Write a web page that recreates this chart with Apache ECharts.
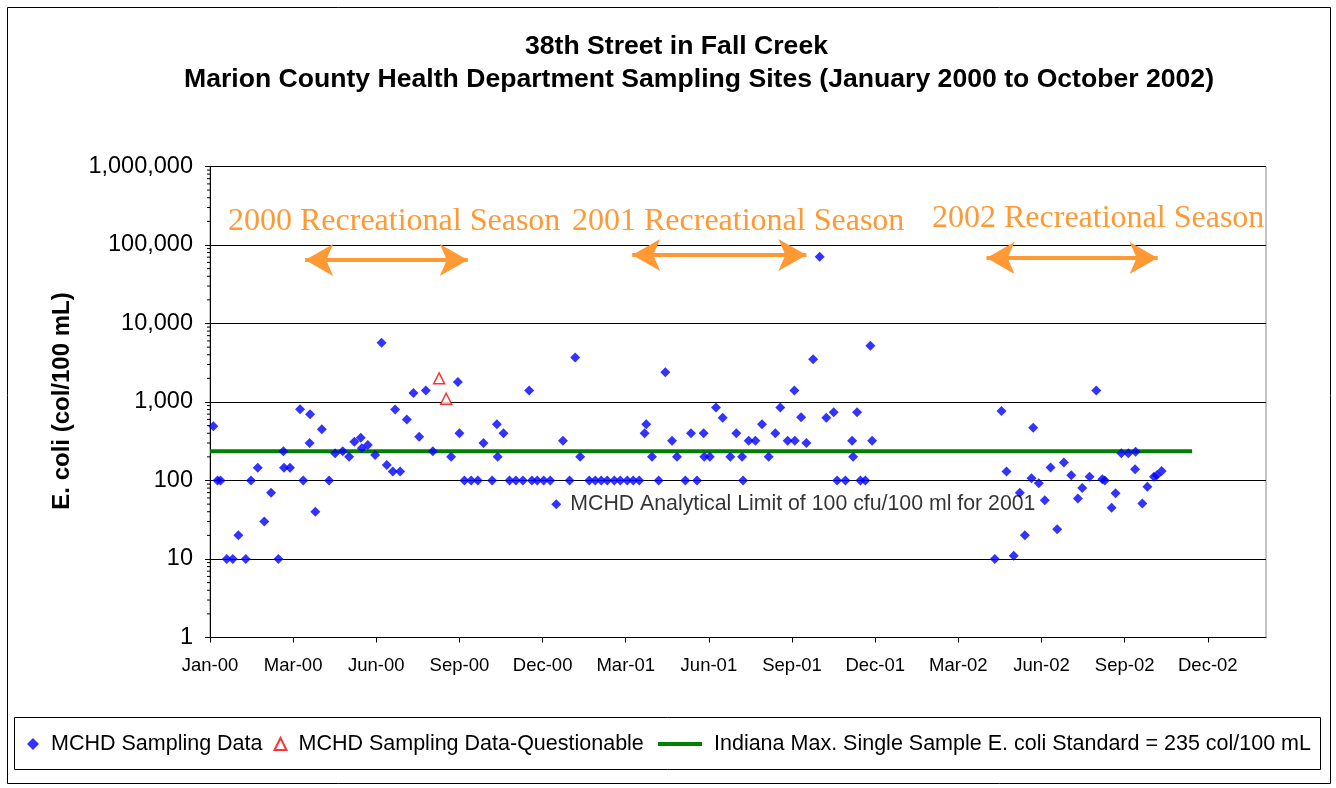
<!DOCTYPE html>
<html><head><meta charset="utf-8">
<script src="https://cdn.jsdelivr.net/npm/echarts@6/dist/echarts.min.js"></script>
<style>html,body{margin:0;padding:0;background:#fff}#c{width:1336px;height:788px}</style>
</head><body><div id="c"></div>
<script>
// Days since 2000-01-01 and E. coli values (col/100 mL)
const sampleDay = [3.6, 8.1, 11.4, 18.1, 24.6, 30.7, 38.7, 44.4, 51.7, 58.8,
  66.1, 74, 79.4, 80.1, 86.6, 97.5, 101, 108.3, 107.8, 114,
  121, 128.9, 135.4, 143.7, 150.6, 156.3, 163.2, 164.3, 170.8, 178.7,
  185.7, 191.4, 197.9, 200.4, 205.8, 213, 220.2, 226.4, 233.6, 241.2,
  261, 268.3, 270, 275.4, 282.7, 289.9, 296, 305.4, 310.5, 311.4,
  317.7, 324.2, 331.1, 338.7, 345.5, 348.4, 354.2, 361.2, 368.3, 374.8,
  382, 389.2, 395.3, 400.7, 410.5, 417, 423.5, 430, 437.6, 444.1,
  451.6, 458.1, 464.6, 470.4, 472.2, 478.4, 485.6, 492.8, 500.1, 505.5,
  514.5, 520.6, 527.1, 534.3, 535, 541, 547.7, 554.9, 563.2, 569.7,
  575.9, 577, 583.1, 590.3, 597.5, 604.7, 611.9, 617.3, 625.2, 632.5,
  633, 639.8, 645.5, 652.8, 659.9, 667.1, 675.1, 678.8, 687.8, 695,
  696.1, 700.4, 704, 709.4, 714.8, 716.7,
  849.5, 856.7, 862.1, 870, 876.5, 882, 889.2, 891, 897.1, 903.6,
  909.8, 917, 924.2, 932.2, 939.4, 944.1, 952, 959.3, 965.8, 968.6,
  975.9, 980.2, 986.4, 994, 1001.9, 1001.3, 1009.1, 1014.6, 1021.7, 1024.8, 1030];
const ecoli = [490, 100, 100, 10, 10, 20, 10, 100, 145, 30,
  70, 10, 235, 145, 145, 810, 100, 700, 300, 40,
  450, 100, 222, 236, 200, 312, 350, 257, 283, 211,
  5700, 157, 130, 800, 130, 600, 1300, 360, 1400, 235,
  200, 1800, 400, 100, 100, 100, 300, 100, 520, 200,
  400, 100, 100, 100, 1400, 100, 100, 100, 100, 50,
  320, 100, 3700, 200, 100, 100, 100, 100, 100, 100,
  100, 100, 100, 400, 520, 200, 100, 2400, 320, 200,
  100, 400, 100, 400, 200, 200, 850, 630, 200, 400,
  200, 100, 320, 320, 520, 200, 400, 850, 320, 1400,
  320, 640, 300, 3500, 71000, 630, 740, 100, 100, 320,
  200, 740, 100, 100, 5200, 320,
  10, 770, 130, 11, 70, 20, 107, 470, 92, 56,
  146, 24, 169, 117, 59, 80, 112, 1400, 104, 100,
  45, 69, 222, 222, 233, 139, 51, 83, 112, 117, 132];
const questionableDay = [248, 255.6];
const questionableEcoli = [2000, 1100];
const standardValue = 235;
const standardDays = [0, 1063];
const noteIndex = 59;
const noteText = 'MCHD Analytical Limit of 100 cfu/100 ml for 2001';
const seasonNames = ['2000 Recreational Season', '2001 Recreational Season', '2002 Recreational Season'];
const seasonStart = [103, 457, 840.5];
const seasonEnd = [279, 645.5, 1025.7];
const seasonArrowY = [64400, 74600, 68200];
const xTickDays = [0, 90, 180, 270, 360, 450, 540, 630, 720, 810, 900, 990, 1080];
const minorTickValues = [];
for (let k = 0; k < 6; k++) for (let m = 2; m <= 9; m++) minorTickValues.push(m * Math.pow(10, k));
const seriesNames = ['MCHD Sampling Data', 'MCHD Sampling Data-Questionable', 'Indiana Max. Single Sample E. coli Standard = 235 col/100 mL'];
const titleLines = ['38th Street in Fall Creek', 'Marion County Health Department Sampling Sites (January 2000 to October 2002)'];
const yName = 'E. coli (col/100 mL)';

const MONTHS = ['Jan','Feb','Mar','Apr','May','Jun','Jul','Aug','Sep','Oct','Nov','Dec'];
function dayLabel(v) {
  const d = new Date(2000, 0, 1 + Math.round(v));
  return MONTHS[d.getMonth()] + '-' + String(d.getFullYear() % 100).padStart(2, '0');
}
const FONT = '"Liberation Sans", Arial, sans-serif';
const ORANGE = '#FF9933';

const mainData = sampleDay.map((d, i) => {
  const item = { value: [d, ecoli[i]] };
  if (i === noteIndex) {
    item.label = { show: true, position: 'right', distance: 9, formatter: noteText,
      color: '#000', fontSize: 21.3, fontFamily: FONT };
  }
  return item;
});

const chart = echarts.init(document.getElementById('c'), null, { renderer: 'canvas' });
chart.setOption({
  animation: false,
  backgroundColor: '#fff',
  grid: { left: 210, right: 70, top: 166.5, bottom: 150.5, show: true, borderColor: '#888', borderWidth: 1, backgroundColor: 'transparent' },
  xAxis: {
    type: 'value', min: 0, max: 1143, interval: 90,
    axisLine: { show: true, onZero: false, lineStyle: { color: '#000', width: 1 } },
    axisTick: { show: true, inside: false, length: 5, lineStyle: { color: '#000' }, customValues: xTickDays },
    axisLabel: { color: '#000', fontSize: 18.5, fontFamily: FONT, margin: 19, formatter: dayLabel, customValues: xTickDays },
    splitLine: { show: false }
  },
  yAxis: {
    type: 'log', logBase: 10, min: 1, max: 1000000,
    axisLine: { show: true, lineStyle: { color: '#000', width: 1 } },
    axisTick: { show: true, inside: false, length: 5, lineStyle: { color: '#000' } },
    axisLabel: { color: '#000', fontSize: 23.5, fontFamily: FONT, margin: 17,
      formatter: v => Math.round(v).toLocaleString('en-US') },
    splitLine: { show: true, lineStyle: { color: '#000', width: 1 } }
  },
  legend: [
    { data: [seriesNames[0], seriesNames[1]], left: 27, top: 733, itemWidth: 12, itemHeight: 12, itemGap: 11,
      textStyle: { fontSize: 21.5, fontFamily: FONT, color: '#000', padding: [0, 0, 0, 7] }, padding: 0 },
    { data: [seriesNames[2]], left: 656, top: 733, itemWidth: 44, itemHeight: 4,
      lineStyle: { width: 4, color: '#008000' },
      textStyle: { fontSize: 21.5, fontFamily: FONT, color: '#000', padding: [0, 0, 0, 7] }, padding: 0 }
  ],
  series: [
    { name: seriesNames[0], type: 'scatter', symbol: 'diamond', symbolSize: 10,
      itemStyle: { color: '#0000FF' }, data: mainData, z: 5 },
    { name: seriesNames[1], type: 'scatter', symbol: 'triangle', symbolSize: 11,
      itemStyle: { color: '#fff', borderColor: '#FF0000', borderWidth: 1.5 },
      data: questionableDay.map((d, i) => [d, questionableEcoli[i]]), z: 5 },
    { name: seriesNames[2], type: 'line', symbol: 'none', showSymbol: false,
      lineStyle: { color: '#008000', width: 4 }, itemStyle: { color: '#008000' },
      data: standardDays.map(d => [d, standardValue]), z: 3 },
    { name: 'arrows', type: 'line', data: [], silent: true,
      markLine: { silent: true, symbol: ['arrow', 'arrow'], symbolSize: [24, 28],
        lineStyle: { color: ORANGE, width: 4, type: 'solid' }, label: { show: false },
        data: seasonStart.map((s, i) => [{ coord: [s, seasonArrowY[i]] }, { coord: [seasonEnd[i], seasonArrowY[i]] }]) } },
    { name: 'minorTicks', type: 'custom', silent: true, clip: false, z: 2,
      data: minorTickValues.map(v => [0, v]),
      renderItem: (params, api) => {
        const p = api.coord([api.value(0), api.value(1)]);
        return { type: 'line', shape: { x1: p[0] - 3, y1: p[1], x2: p[0], y2: p[1] }, style: { stroke: '#000', lineWidth: 1 } };
      } }
  ],
  graphic: [
    { type: 'rect', shape: { x: 7.5, y: 7.5, width: 1323, height: 776 }, style: { fill: 'none', stroke: '#000', lineWidth: 1 }, silent: true },
    { type: 'rect', shape: { x: 14.5, y: 717.5, width: 1306, height: 52 }, style: { fill: 'none', stroke: '#000', lineWidth: 1 }, silent: true },
    { type: 'text', x: 676.5, y: 47, style: { text: titleLines[0], font: 'bold 26.6px ' + FONT, fill: '#000', align: 'center', verticalAlign: 'middle' } },
    { type: 'text', x: 699, y: 80, style: { text: titleLines[1], font: 'bold 26.6px ' + FONT, fill: '#000', align: 'center', verticalAlign: 'middle' } },
    { type: 'text', x: 62, y: 401, rotation: Math.PI / 2, style: { text: yName, font: 'bold 24px ' + FONT, fill: '#000', align: 'center', verticalAlign: 'middle' } },
    { type: 'text', x: 228, y: 222, style: { text: seasonNames[0], font: '32px "Liberation Serif", "Times New Roman", serif', fill: ORANGE, align: 'left', verticalAlign: 'middle' } },
    { type: 'text', x: 572, y: 222, style: { text: seasonNames[1], font: '32px "Liberation Serif", "Times New Roman", serif', fill: ORANGE, align: 'left', verticalAlign: 'middle' } },
    { type: 'text', x: 932, y: 219, style: { text: seasonNames[2], font: '32px "Liberation Serif", "Times New Roman", serif', fill: ORANGE, align: 'left', verticalAlign: 'middle' } }
  ]
});
</script></body></html>
